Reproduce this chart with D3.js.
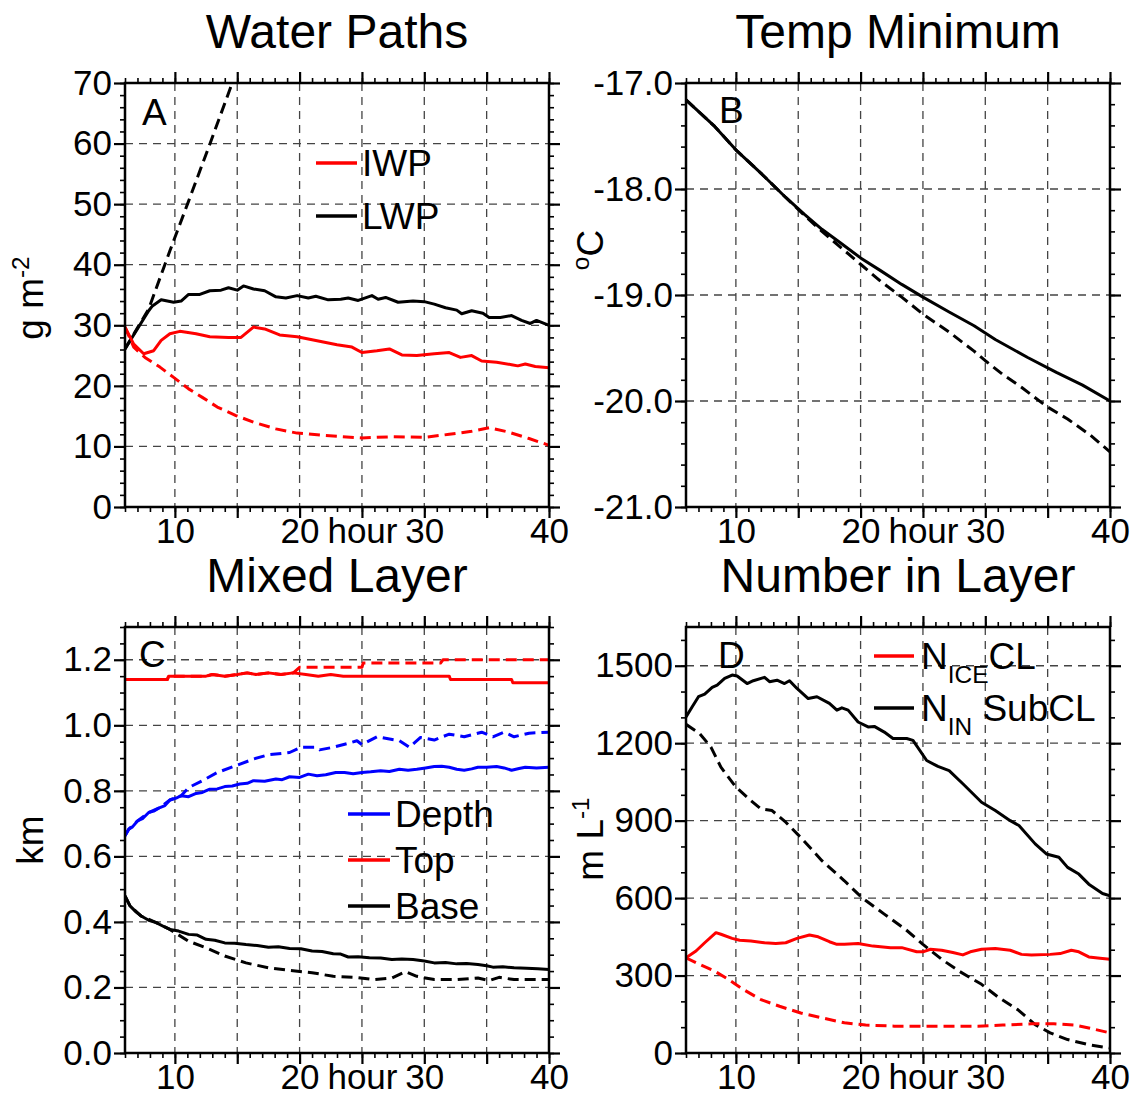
<!DOCTYPE html>
<html>
<head>
<meta charset="utf-8">
<script src="https://cdn.jsdelivr.net/npm/d3@7"></script>
<style>
  body { margin: 0; background: #fff; }
  text { font-family: "Liberation Sans", Arial, Helvetica, sans-serif; fill: #000; }
</style>
</head>
<body>
<svg id="chart" width="1137" height="1097"></svg>
<script>
// ---- data (hour, value) ----
const hourTicks = [10, 15, 20, 25, 30, 35, 40];
const hourLabels = ["10", "", "20", "hour", "30", "", "40"];

// A: water paths, g m-2
const iwpSolid = [[6,29.7],[6.7,26.9],[7.5,25.3],[8.3,25.8],[8.9,27.5],[9.6,28.6],[10.4,29.0],[11.7,28.6],[12.8,28.1],[14.3,28.0],[15.3,28.0],[16.3,29.7],[17.2,29.4],[18.4,28.4],[19.8,28.1],[21.3,27.5],[23,26.8],[24.2,26.4],[25,25.5],[26.2,25.8],[27.2,26.1],[28.2,25.1],[29.4,25.0],[30.8,25.3],[32,25.5],[32.9,24.7],[33.8,25.0],[34.6,24.1],[35.8,23.9],[37,23.5],[37.5,23.3],[38.1,23.6],[38.9,23.2],[40,23.0]];
const iwpDashed = [[6,29.7],[6.7,26.4],[7.6,24.7],[8.8,23.1],[9.9,21.4],[11.1,19.5],[12.2,18.1],[13.4,16.5],[14.9,15.1],[16.3,14.0],[18.1,12.9],[19.8,12.2],[22.1,11.8],[25,11.4],[27.4,11.6],[30,11.5],[32,12.0],[33.8,12.5],[35.2,13.1],[36.7,12.4],[38.4,11.3],[40,10.2]];
const lwpSolid = [[6,26.1],[7.9,32.4],[8.2,33.2],[8.9,34.2],[9.9,33.8],[10.5,34.0],[11.1,35.1],[12,35.1],[12.8,35.7],[13.7,35.8],[14.3,36.2],[15,35.8],[15.5,36.5],[16.3,36.0],[17.2,35.7],[18.1,34.7],[18.9,34.5],[19.8,34.9],[20.7,34.5],[21.3,34.8],[22.3,34.2],[23.3,34.3],[23.9,34.5],[24.7,34.1],[25.8,34.9],[26.3,34.3],[26.9,34.6],[27.9,33.8],[29.1,34.0],[30,33.9],[30.8,33.5],[31.7,32.9],[32.6,32.5],[33,31.9],[33.8,32.4],[34.7,32.0],[35.2,31.3],[36.1,31.3],[37,31.6],[37.8,30.8],[38.5,30.3],[39,30.8],[40,30.0]];
const lwpDashed = [[6,26.1],[7.9,32.7],[9.6,42.3],[11.1,50.5],[12.8,59.9],[14.6,70]];
const waterTicks = [0, 10, 20, 30, 40, 50, 60, 70];

// B: minimum temperature, deg C
const tminSolid = [[6,-17.16],[8.3,-17.41],[10,-17.63],[12,-17.85],[14,-18.08],[15.5,-18.24],[16.9,-18.38],[18.4,-18.51],[20,-18.65],[21.6,-18.77],[23.3,-18.90],[25,-19.02],[27.1,-19.16],[29.1,-19.29],[30.8,-19.42],[33.4,-19.59],[35.7,-19.73],[37.8,-19.85],[40,-20.0]];
const tminDashed = [[6,-17.16],[8.3,-17.41],[10,-17.63],[12,-17.85],[14,-18.08],[15.5,-18.25],[16.9,-18.40],[18.4,-18.55],[20,-18.71],[21.6,-18.87],[23.3,-19.02],[25,-19.18],[27.1,-19.35],[29.1,-19.53],[30,-19.62],[31.4,-19.75],[32.9,-19.87],[34.9,-20.05],[36.6,-20.17],[38.4,-20.32],[40,-20.48]];
const tempTicks = [-21, -20, -19, -18, -17];

// C: mixed layer, km
const depthSolid = [[6,0.663],[6.3,0.683],[6.6,0.69],[7,0.708],[7.4,0.715],[7.9,0.734],[8.3,0.738],[8.8,0.749],[9.2,0.755],[9.6,0.772],[10.1,0.778],[10.5,0.785],[11.1,0.782],[11.7,0.792],[12.2,0.795],[12.8,0.805],[13.4,0.806],[14,0.813],[14.6,0.815],[15.2,0.821],[15.8,0.823],[16.3,0.831],[17.2,0.829],[18.1,0.836],[18.6,0.834],[19.2,0.843],[20,0.841],[20.7,0.851],[21.4,0.846],[22.1,0.849],[22.9,0.856],[23.6,0.856],[24.3,0.852],[25,0.856],[25.7,0.858],[26.5,0.861],[27.2,0.859],[28,0.866],[28.7,0.863],[29.4,0.866],[30.1,0.870],[30.8,0.874],[31.4,0.875],[32,0.872],[32.6,0.866],[33.2,0.863],[33.8,0.867],[34.3,0.872],[35,0.872],[35.8,0.874],[36.4,0.870],[37,0.863],[37.6,0.868],[38.1,0.872],[39,0.870],[40,0.872]];
const depthDashed = [[6,0.663],[6.3,0.683],[7,0.708],[7.9,0.734],[8.8,0.749],[9.6,0.772],[10.5,0.785],[11.1,0.810],[12.2,0.831],[13.4,0.856],[14.9,0.877],[16.3,0.897],[17.5,0.910],[19.2,0.917],[20.1,0.933],[21.3,0.933],[21.6,0.925],[22.7,0.933],[23.9,0.945],[24.6,0.953],[25,0.941],[26.2,0.965],[28,0.953],[28.8,0.933],[29.7,0.963],[30.8,0.955],[32,0.973],[33.2,0.965],[34.6,0.979],[35.5,0.965],[36.4,0.979],[37.2,0.965],[38.4,0.976],[40,0.979]];
const topSolid = [[6,1.14],[9.4,1.14],[9.5,1.15],[12.5,1.15],[13,1.155],[14,1.15],[15,1.155],[15.8,1.16],[16.5,1.155],[17.5,1.16],[18.5,1.155],[19.5,1.16],[20.5,1.155],[21.5,1.15],[22.5,1.155],[23.5,1.15],[32,1.15],[32.1,1.14],[37,1.14],[37.1,1.13],[40,1.13]];
const topDashed = [[6,1.14],[9.4,1.14],[9.5,1.15],[12.5,1.15],[13,1.155],[14,1.15],[15,1.155],[15.8,1.16],[16.5,1.155],[17.5,1.16],[18.5,1.155],[19.5,1.16],[20,1.177],[25,1.177],[25.1,1.19],[31.3,1.19],[31.5,1.2],[40,1.2]];
const baseSolid = [[6,0.479],[6.4,0.449],[6.9,0.43],[7.3,0.418],[7.9,0.405],[8.5,0.398],[9.1,0.386],[9.6,0.377],[10.3,0.372],[11.1,0.362],[11.8,0.360],[12.5,0.347],[13.2,0.344],[14,0.336],[14.8,0.335],[15.7,0.331],[16.6,0.328],[17.5,0.323],[18.3,0.324],[19.2,0.319],[20.1,0.318],[21,0.311],[21.8,0.310],[22.7,0.303],[23.3,0.302],[23.9,0.293],[24.7,0.294],[25.6,0.291],[26.5,0.290],[27.4,0.285],[28.2,0.287],[29.1,0.285],[30,0.281],[30.8,0.275],[31.7,0.276],[32.6,0.272],[33.4,0.273],[34.3,0.270],[35,0.266],[35.5,0.262],[36.3,0.263],[37.2,0.260],[38.2,0.259],[39.1,0.257],[40,0.255]];
const baseDashed = [[6,0.479],[6.4,0.449],[7.3,0.418],[8.5,0.398],[9.6,0.377],[11.1,0.341],[12.5,0.321],[14,0.296],[15.7,0.275],[17.5,0.260],[19.2,0.252],[21,0.245],[22.7,0.234],[24.5,0.231],[25.9,0.224],[27.4,0.229],[28.5,0.248],[29.4,0.234],[30.8,0.224],[32.6,0.224],[34.3,0.229],[35.2,0.221],[36,0.231],[37.2,0.224],[40,0.224]];
const kmTicks = [0, 0.2, 0.4, 0.6, 0.8, 1.0, 1.2];

// D: number in layer, per litre
const niceSolid = [[6,369],[6.8,395],[7.5,427],[8.4,466],[8.8,460],[9.7,444],[10.3,437],[11.2,434],[12.3,427],[13.2,424],[14,427],[14.9,444],[15.9,457],[16.6,450],[17.5,431],[18.1,421],[18.7,421],[19.8,424],[21,414],[22.4,408],[23.3,408],[24.5,392],[25,392],[25.6,402],[26.5,398],[27.4,389],[28.2,380],[28.8,392],[29.7,402],[30.8,405],[32,398],[32.9,382],[33.7,380],[35.2,382],[36,385],[36.9,398],[37.5,392],[38.3,372],[39.2,367],[40,363]];
const niceDashed = [[6,369],[7.1,343],[8.3,317],[9.4,285],[10.6,246],[12,207],[13.5,181],[15.2,155],[16.9,136],[18.7,117],[20.4,108],[22.7,104],[25,104],[27.4,104],[29.4,104],[31.4,108],[33.7,113],[35.5,113],[37.2,108],[38.3,97],[40,78]];
const ninSolid = [[6,1302],[6.5,1341],[7,1380],[7.5,1390],[8.1,1416],[8.5,1425],[9.1,1451],[9.7,1464],[10.1,1460],[10.9,1431],[11.4,1442],[12.3,1455],[12.7,1438],[13.3,1444],[13.9,1431],[14.3,1442],[14.9,1412],[15.8,1373],[16.5,1380],[17.5,1354],[18.1,1328],[18.5,1337],[19,1328],[19.8,1282],[20.6,1263],[21.1,1265],[21.9,1243],[22.6,1218],[23.7,1218],[24.2,1211],[25.3,1133],[26.2,1110],[27.1,1094],[28.2,1043],[29.7,971],[30.8,939],[32,900],[32.7,881],[34,810],[34.9,771],[35.9,758],[36.6,719],[37.5,693],[38.3,654],[39.4,618],[40,609]];
const ninDashed = [[6,1273],[7.1,1237],[8,1185],[8.8,1107],[10,1030],[11.2,978],[12,946],[12.9,939],[14,894],[15.2,835],[16.9,745],[18.7,667],[20.1,602],[21.9,538],[23.6,479],[25,421],[26.5,363],[27.9,317],[29.7,266],[31.1,214],[32.6,168],[34,110],[35.2,78],[36.6,52],[38.3,32],[40,19]];
const numTicks = [0, 300, 600, 900, 1200, 1500];

const RED = "#ff0000", BLUE = "#0000ff", BLACK = "#000000";

const svg = d3.select("#chart");

// plain hyphen for negatives, like the original plot
const hyphen = f => d => f(d).replace("\u2212", "-");

const panels = [
  { key: "A", title: "Water Paths", left: 125, right: 549, top: 83, bottom: 507,
    yDomain: [0, 70], yTicks: waterTicks, yMinorStep: 2, fmt: d3.format("d"),
    letter: [142, 125], ylab: { x: 43, y: 298, parts: [["g m", 0], ["-2", 1]] },
    series: [
      [lwpDashed, BLACK, true], [iwpDashed, RED, true],
      [lwpSolid, BLACK, false], [iwpSolid, RED, false]],
    legend: { x1: 316, x2: 357, tx: 362, y: 163, step: 53,
      items: [[RED, [["IWP", 0]]], [BLACK, [["LWP", 0]]]] } },
  { key: "B", title: "Temp Minimum", left: 686, right: 1110, top: 83, bottom: 507,
    yDomain: [-21, -17], yTicks: tempTicks, yMinorStep: 0.2, fmt: hyphen(d3.format(".1f")),
    letter: [719, 123], ylab: { x: 603, y: 250, parts: [["o", 1], ["C", 0]] },
    series: [[tminDashed, BLACK, true], [tminSolid, BLACK, false]],
    legend: null },
  { key: "C", title: "Mixed Layer", left: 125, right: 549, top: 627, bottom: 1053,
    yDomain: [0, 1.3], yTicks: kmTicks, yMinorStep: 0.05, fmt: d3.format(".1f"),
    letter: [139, 667], ylab: { x: 43, y: 840, parts: [["km", 0]] },
    series: [
      [topDashed, RED, true], [depthDashed, BLUE, true], [baseDashed, BLACK, true],
      [topSolid, RED, false], [depthSolid, BLUE, false], [baseSolid, BLACK, false]],
    legend: { x1: 348, x2: 390, tx: 395, y: 814, step: 46,
      items: [[BLUE, [["Depth", 0]]], [RED, [["Top", 0]]], [BLACK, [["Base", 0]]]] } },
  { key: "D", title: "Number in Layer", left: 686, right: 1110, top: 627, bottom: 1053,
    yDomain: [0, 1650], yTicks: numTicks, yMinorStep: 100, fmt: d3.format("d"),
    letter: [718, 668], ylab: { x: 603, y: 839, parts: [["m L", 0], ["-1", 1]] },
    series: [
      [ninDashed, BLACK, true], [niceDashed, RED, true],
      [ninSolid, BLACK, false], [niceSolid, RED, false]],
    legend: { x1: 874, x2: 914, tx: 921, y: 656, step: 52,
      items: [[RED, [["N", 0], ["ICE", -1], ["CL", 0]]], [BLACK, [["N", 0], ["IN", -1], [" SubCL", 0]]]] } }
];

// write a string made of [text, shift] parts: shift 1 = superscript, -1 = subscript
function writeParts(textSel, parts, size) {
  let prev = 0;
  parts.forEach(([s, shift]) => {
    const dy = (prev - shift) * size * 0.38;
    textSel.append("tspan")
      .attr("dy", dy)
      .attr("font-size", shift === 0 ? size : size * 0.66)
      .text(s);
    prev = shift;
  });
}

panels.forEach(p => {
  const x = d3.scaleLinear().domain([6, 40]).range([p.left, p.right]);
  const y = d3.scaleLinear().domain(p.yDomain).range([p.bottom, p.top]);
  const g = svg.append("g");

  // clip
  svg.append("clipPath").attr("id", "clip" + p.key)
    .append("rect").attr("x", p.left).attr("y", p.top)
    .attr("width", p.right - p.left).attr("height", p.bottom - p.top);

  // dashed grid
  const grid = g.append("g").attr("stroke", "#444").attr("stroke-width", 1.3)
    .attr("stroke-dasharray", "8,6").attr("fill", "none");
  grid.selectAll("line.v").data(hourTicks.filter(h => h < 40)).join("line")
    .attr("x1", d => x(d)).attr("x2", d => x(d))
    .attr("y1", p.top).attr("y2", p.bottom);
  grid.selectAll("line.h").data(p.yTicks.filter(v => v > p.yDomain[0] && v < p.yDomain[1])).join("line")
    .attr("x1", p.left).attr("x2", p.right)
    .attr("y1", d => y(d)).attr("y2", d => y(d));

  // series
  const line = d3.line().x(d => x(d[0])).y(d => y(d[1]));
  const sg = g.append("g").attr("clip-path", "url(#clip" + p.key + ")");
  p.series.forEach(([data, color, dashed]) => {
    sg.append("path").datum(data)
      .attr("d", line)
      .attr("fill", "none")
      .attr("stroke", color)
      .attr("stroke-width", 3)
      .attr("stroke-linejoin", "round")
      .attr("stroke-dasharray", dashed ? "11,6" : null);
  });

  // axes: major + minor ticks on all four sides
  const yMinor = d3.range(p.yDomain[0], p.yDomain[1] + 1e-9, p.yMinorStep);
  const xMinor = d3.range(6, 41, 1);
  const styleAxis = a => {
    a.attr("font-size", null).attr("font-family", null);
    a.select(".domain").remove();
    a.selectAll("line").attr("stroke", "#000").attr("stroke-width", 1.6);
  };

  g.append("g").attr("transform", `translate(0,${p.bottom})`)
    .call(d3.axisBottom(x).tickValues(xMinor).tickSize(5).tickFormat(""))
    .call(styleAxis);
  g.append("g").attr("transform", `translate(0,${p.top})`)
    .call(d3.axisTop(x).tickValues(xMinor).tickSize(5).tickFormat(""))
    .call(styleAxis);
  g.append("g").attr("transform", `translate(${p.left},0)`)
    .call(d3.axisLeft(y).tickValues(yMinor).tickSize(5).tickFormat(""))
    .call(styleAxis);
  g.append("g").attr("transform", `translate(${p.right},0)`)
    .call(d3.axisRight(y).tickValues(yMinor).tickSize(5).tickFormat(""))
    .call(styleAxis);

  const bottomAxis = g.append("g").attr("transform", `translate(0,${p.bottom})`)
    .call(d3.axisBottom(x).tickValues(hourTicks).tickSize(11).tickPadding(4)
      .tickFormat((d, i) => hourLabels[i]))
    .call(styleAxis);
  bottomAxis.selectAll("line").attr("stroke-width", 2.2);
  bottomAxis.selectAll("text").attr("font-size", 35)
    .attr("y", 36).attr("dy", null);

  g.append("g").attr("transform", `translate(0,${p.top})`)
    .call(d3.axisTop(x).tickValues(hourTicks).tickSize(11).tickFormat(""))
    .call(styleAxis).selectAll("line").attr("stroke-width", 2.2);

  const leftAxis = g.append("g").attr("transform", `translate(${p.left},0)`)
    .call(d3.axisLeft(y).tickValues(p.yTicks).tickSize(11).tickPadding(2).tickFormat(p.fmt))
    .call(styleAxis);
  leftAxis.selectAll("line").attr("stroke-width", 2.2);
  leftAxis.selectAll("text").attr("font-size", 35);

  g.append("g").attr("transform", `translate(${p.right},0)`)
    .call(d3.axisRight(y).tickValues(p.yTicks).tickSize(11).tickFormat(""))
    .call(styleAxis).selectAll("line").attr("stroke-width", 2.2);

  // frame
  g.append("rect")
    .attr("x", p.left).attr("y", p.top)
    .attr("width", p.right - p.left).attr("height", p.bottom - p.top)
    .attr("fill", "none").attr("stroke", "#000").attr("stroke-width", 2.5);

  // title
  g.append("text")
    .attr("x", (p.left + p.right) / 2).attr("y", p.top - 35)
    .attr("text-anchor", "middle").attr("font-size", 48)
    .text(p.title);

  // panel letter
  g.append("text").attr("x", p.letter[0]).attr("y", p.letter[1])
    .attr("font-size", 37).text(p.key);

  // y label (rotated)
  const yl = g.append("text")
    .attr("transform", `translate(${p.ylab.x},${p.ylab.y}) rotate(-90)`)
    .attr("text-anchor", "middle").attr("font-size", 37);
  writeParts(yl, p.ylab.parts, 37);

  // legend
  if (p.legend) {
    const L = p.legend;
    L.items.forEach(([color, parts], i) => {
      const ly = L.y + i * L.step;
      g.append("line")
        .attr("x1", L.x1).attr("x2", L.x2).attr("y1", ly).attr("y2", ly)
        .attr("stroke", color).attr("stroke-width", 3.5);
      const t = g.append("text").attr("x", L.tx).attr("y", ly + 13).attr("font-size", 37);
      writeParts(t, parts, 37);
    });
  }
});
</script>
</body>
</html>
